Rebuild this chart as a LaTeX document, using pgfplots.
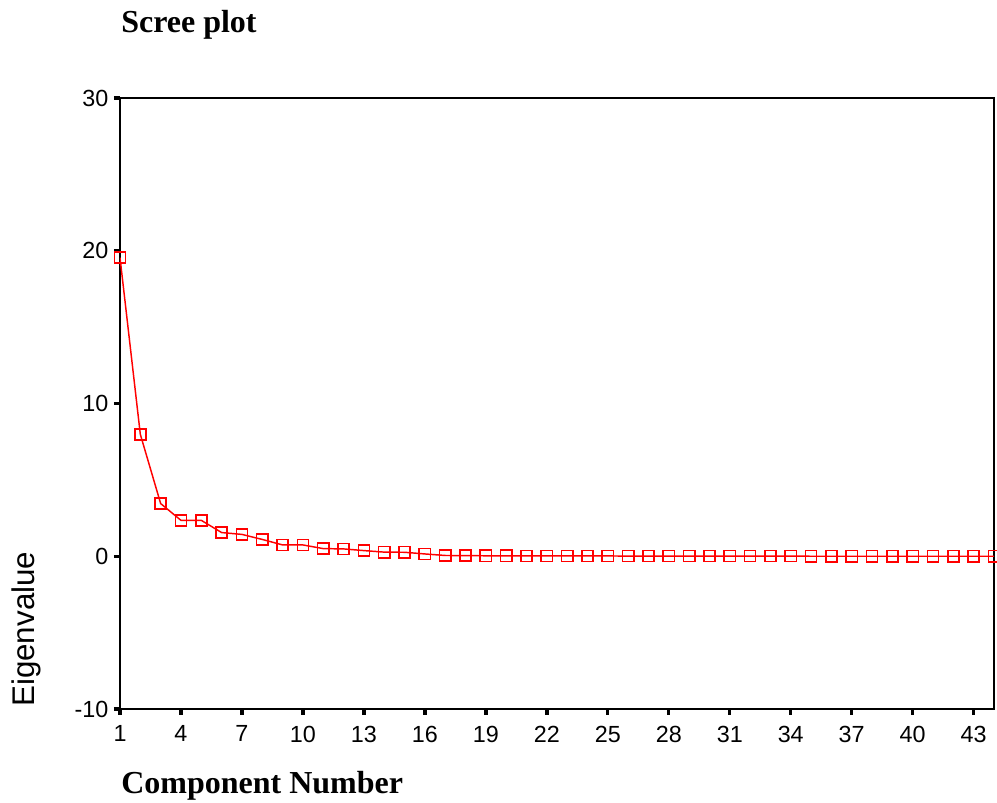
\documentclass[border=0pt]{standalone}
\usepackage{fontspec}
\setmainfont{Liberation Sans}
\newfontfamily\timesfont{Liberation Serif}
\usepackage{pgfplots}
\pgfplotsset{compat=1.18}
\begin{document}
\begin{tikzpicture}
\useasboundingbox (0,0) rectangle (747.75pt,602.25pt);
\begin{axis}[
  at={(90pt,70.5pt)}, anchor=south west,
  scale only axis, width=655.5pt, height=458.25pt,
  xmin=1, xmax=44, ymin=-10, ymax=30,
  xtick={1,4,...,43}, ytick={-10,0,10,20,30},
  tick pos=left, tick align=outside,
  major tick length=4.5pt,
  every tick/.style={black, line width=2.5pt},
  axis line style={black, line width=1.5pt},
  /pgf/number format/assume math mode=true,
  ticklabel style={font=\fontsize{17.5}{20}\selectfont, inner sep=0pt},
  yticklabel style={xshift=-4pt},
  xticklabel style={yshift=-8pt},
]
\addplot[red, line width=1.1pt, mark=square, mark size=4.2pt, mark options={line width=1.2pt}] coordinates {
(1,19.55) (2,7.98) (3,3.45) (4,2.35) (5,2.35) (6,1.55) (7,1.43) (8,1.10)
(9,0.74) (10,0.74) (11,0.50) (12,0.48) (13,0.37) (14,0.27) (15,0.26)
(16,0.15) (17,0.05) (18,0.04) (19,0.03) (20,0.03) (21,0.02) (22,0.02)
(23,0.02) (24,0.02) (25,0.02) (26,0.01) (27,0.01) (28,0.01) (29,0.01)
(30,0.01) (31,0.01) (32,0.01) (33,0.01) (34,0.01) (35,0.00) (36,0.00)
(37,0.00) (38,0.00) (39,0.00) (40,0.00) (41,0.00) (42,0.00) (43,0.00) (44,0.00)
};
\end{axis}
\node[anchor=base west, inner sep=0pt, font=\timesfont\bfseries\fontsize{24}{28}\selectfont] at (90.75pt,577.5pt) {Scree plot};
\node[anchor=base west, inner sep=0pt, font=\timesfont\bfseries\fontsize{24}{28}\selectfont] at (90.75pt,6.75pt) {Component Number};
\node[anchor=base west, rotate=90, inner sep=0pt, font=\fontsize{23.5}{28}\selectfont] at (26.25pt,72pt) {Eigenvalue};
\end{tikzpicture}
\end{document}
